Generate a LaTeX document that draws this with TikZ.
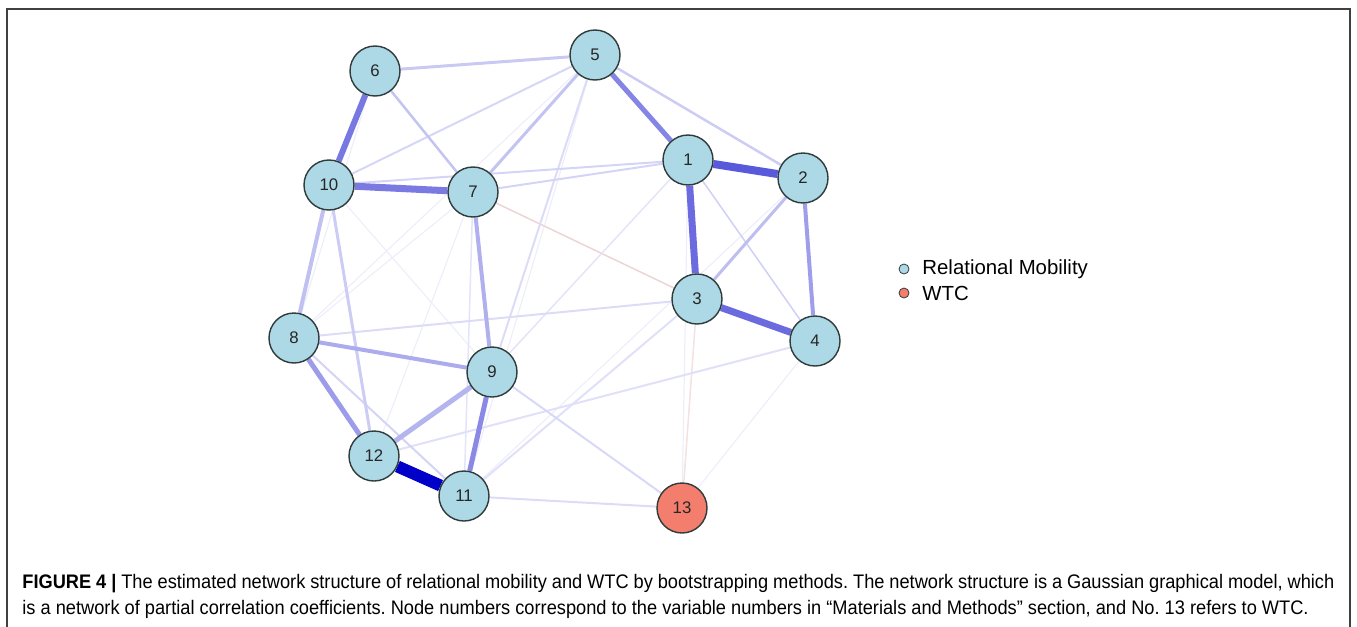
\documentclass[tikz,border=0pt]{standalone}
\usepackage{fontspec}
\usetikzlibrary{backgrounds}
\setmainfont{Liberation Sans}
\newfontfamily\capfont[FakeStretch=0.93]{Liberation Sans}
\definecolor{nodefill}{HTML}{ADD8E6}
\definecolor{wtcfill}{HTML}{F47E6E}
\definecolor{nodeline}{HTML}{2F3B3B}
\definecolor{qb}{HTML}{0000C8}
\definecolor{pinka}{RGB}{238,212,212}
\definecolor{pinkb}{RGB}{242,226,226}
\tikzset{
  vnode/.style={circle, draw=nodeline, line width=0.7pt, fill=nodefill, minimum size=25pt, inner sep=0pt, font=\fontsize{8.4}{9}\selectfont, text=black!85},
  wnode/.style={vnode, fill=wtcfill},
  ed/.style 2 args={line width=#1*0.5pt, draw=qb!#2!white},
  legdot/.style={circle, draw=nodeline, line width=0.4pt, minimum size=5pt, inner sep=0pt},
  legtext/.style={anchor=west, font=\fontsize{10.2}{12}\selectfont, inner sep=0pt},
  frameline/.style={draw=black!75, line width=0.8pt}
}
\begin{document}
\frenchspacing
\begin{tikzpicture}[x=0.5pt,y=-0.5pt]
\path[use as bounding box] (0,0) rectangle (1357,627);
\coordinate (fbl) at (7,627);
\coordinate (ftl) at (7,9);
\coordinate (ftr) at (1350,9);
\coordinate (fbr) at (1350,627);
\draw[frameline] (fbl) -- (ftl) -- (ftr) -- (fbr);

% nodes
\node[vnode] (n1) at (688,160) {1};
\node[vnode] (n2) at (803,178) {2};
\node[vnode] (n3) at (697,299) {3};
\node[vnode] (n4) at (815,341) {4};
\node[vnode] (n5) at (595,55) {5};
\node[vnode] (n6) at (375,71) {6};
\node[vnode] (n7) at (473,192) {7};
\node[vnode] (n8) at (294,338) {8};
\node[vnode] (n9) at (492,372) {9};
\node[vnode] (n10) at (329,185) {10};
\node[vnode] (n11) at (464,496) {11};
\node[vnode] (n12) at (374,456) {12};
\node[wnode] (n13) at (682,508) {13};

\begin{pgfonlayer}{background}
% faint edges
\foreach \a/\b in {n10/n9, n7/n12, n5/n11, n5/n8, n4/n13, n2/n11, n1/n13, n6/n8, n7/n8}
  \draw[ed={1.2}{6.7}] (\a) -- (\b);
\draw[line width=0.75pt, draw=pinka] (n7) -- (n3);
\draw[line width=0.75pt, draw=pinkb] (n3) -- (n13);
\draw[ed={1.5}{10.6}] (n9) -- (n1);
\draw[ed={1.5}{10.6}] (n7) -- (n11);
\draw[ed={2}{13.7}] (n5) -- (n9);
\draw[ed={2}{12.2}] (n12) -- (n4);
\draw[ed={2}{12.2}] (n11) -- (n3);
\draw[ed={2}{13.7}] (n11) -- (n13);
\draw[ed={2}{15.3}] (n9) -- (n13);
\draw[ed={2}{16.9}] (n8) -- (n11);
\draw[ed={2}{13.7}] (n8) -- (n3);
\draw[ed={1.5}{18.4}] (n1) -- (n4);
\draw[ed={3}{20}] (n10) -- (n12);
\draw[ed={2}{16.9}] (n7) -- (n1);
\draw[ed={2}{16.9}] (n10) -- (n1);
\draw[ed={2}{16}] (n5) -- (n10);
\draw[ed={2.5}{23}] (n6) -- (n7);
\draw[ed={2.5}{20}] (n5) -- (n2);
\draw[ed={3}{23}] (n5) -- (n7);
\draw[ed={3}{21}] (n6) -- (n5);
\draw[ed={3}{25.5}] (n2) -- (n3);
% medium edges
\draw[ed={4}{31}] (n7) -- (n9);
\draw[ed={4}{24.7}] (n10) -- (n8);
\draw[ed={4}{33}] (n8) -- (n9);
\draw[ed={5}{29.4}] (n12) -- (n9);
\draw[ed={4}{38}] (n2) -- (n4);
\draw[ed={5}{39}] (n8) -- (n12);
\draw[ed={5}{46}] (n9) -- (n11);
\draw[ed={5}{48}] (n5) -- (n1);
% strong edges
\draw[ed={6}{53}] (n6) -- (n10);
\draw[ed={7}{52}] (n10) -- (n7);
\draw[ed={7}{58}] (n3) -- (n4);
\draw[ed={7}{58}] (n1) -- (n3);
\draw[ed={8}{65}] (n1) -- (n2);
\draw[ed={12}{100}] (n12) -- (n11);
\end{pgfonlayer}

% legend
\node[legdot, fill=nodefill] (l1) at (904,269) {};
\node[legdot, fill=wtcfill] (l2) at (904,293) {};
\node[legtext] (t1) at (922,269) {Relational Mobility};
\node[legtext] (t2) at (922,293) {WTC};

% caption
\node[anchor=north west, inner sep=0pt, text width=656pt, align=justify,
      font=\capfont\fontsize{9.8}{13}\selectfont] (cap) at (22,574)
{\textbf{FIGURE 4 |} The estimated network structure of relational mobility and WTC by bootstrapping methods. The network structure is a Gaussian graphical model, which\linebreak is a network of partial correlation coefficients. Node numbers correspond to the variable numbers in “Materials and Methods” section, and No.~13 refers to WTC.};
\end{tikzpicture}
\end{document}
